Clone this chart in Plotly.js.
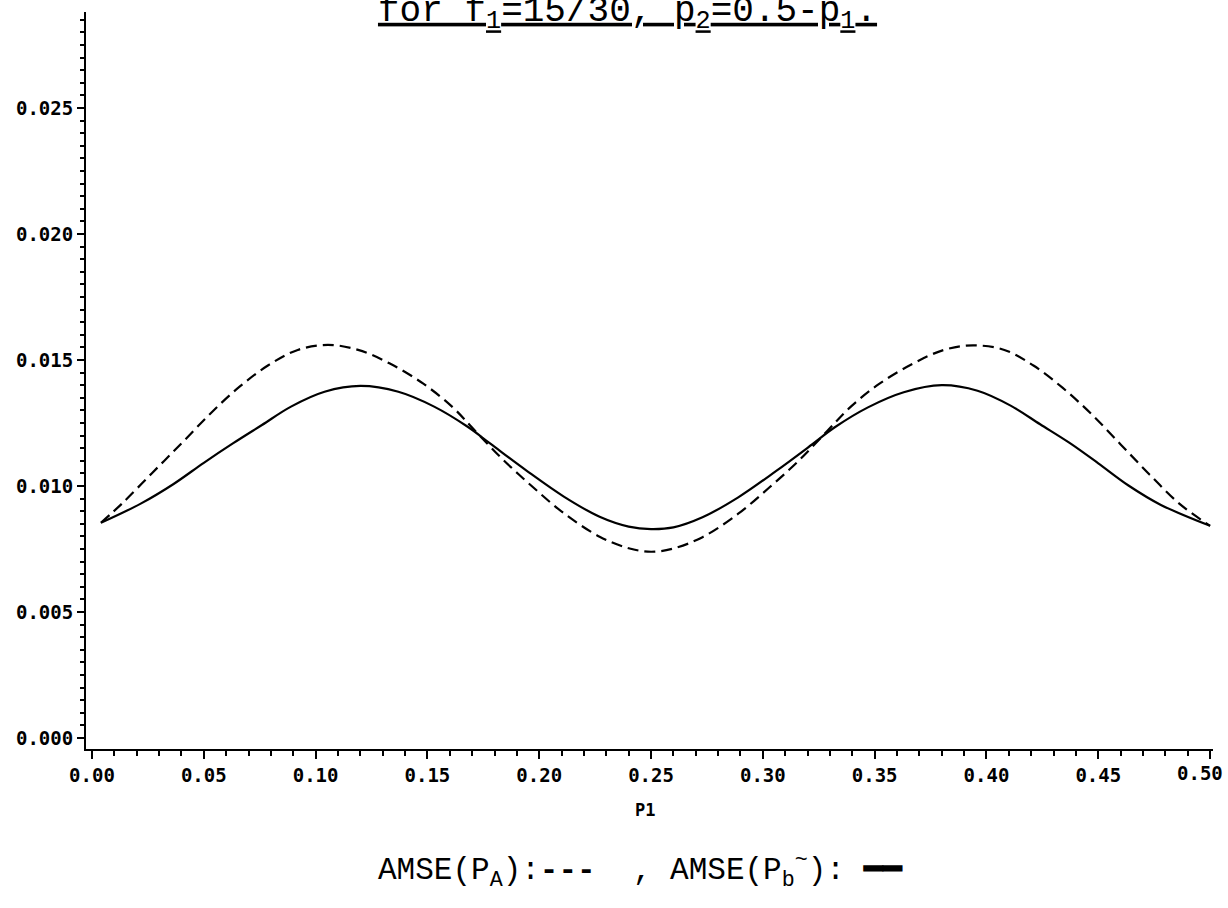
<!DOCTYPE html>
<html>
<head>
<meta charset="utf-8">
<script src="https://cdn.plot.ly/plotly-3.0.1.min.js"></script>
<style>html,body{margin:0;padding:0;background:#fff;}#chart{width:1228px;height:908px;}</style>
</head>
<body>
<div id="chart"></div>
<script>
// AMSE(P_b~) : solid curve
const p1Solid = [0.004, 0.022, 0.0365, 0.050, 0.063, 0.076, 0.089, 0.104, 0.120, 0.137, 0.153, 0.168, 0.178, 0.194, 0.211, 0.227, 0.240, 0.250, 0.260, 0.273, 0.289, 0.306, 0.322, 0.332, 0.347, 0.363, 0.380, 0.396, 0.411, 0.424, 0.437, 0.450, 0.4635, 0.478, 0.500];
const amseSolid = [0.00854, 0.00931, 0.01008, 0.01092, 0.01169, 0.01242, 0.01315, 0.01374, 0.01397, 0.01374, 0.01315, 0.01235, 0.01169, 0.01063, 0.00958, 0.00878, 0.00839, 0.00829, 0.00836, 0.00876, 0.00955, 0.01060, 0.01165, 0.01232, 0.01312, 0.01372, 0.01400, 0.01378, 0.01318, 0.01245, 0.01172, 0.01090, 0.01002, 0.00925, 0.00842];
// AMSE(P_A) : dashed curve
const p1Dashed = [0.004, 0.0135, 0.0267, 0.040, 0.053, 0.066, 0.079, 0.092, 0.1055, 0.119, 0.133, 0.148, 0.161, 0.171, 0.184, 0.197, 0.211, 0.227, 0.240, 0.250, 0.260, 0.273, 0.289, 0.303, 0.316, 0.329, 0.339, 0.352, 0.367, 0.381, 0.394, 0.408, 0.421, 0.434, 0.447, 0.460, 0.473, 0.4865, 0.500];
const amseDashed = [0.00854, 0.00931, 0.01050, 0.01169, 0.01288, 0.01394, 0.01480, 0.01540, 0.01560, 0.01540, 0.01487, 0.01407, 0.01315, 0.01222, 0.01103, 0.00997, 0.00892, 0.00799, 0.00753, 0.00739, 0.00752, 0.00797, 0.00890, 0.00995, 0.01100, 0.01220, 0.01312, 0.01405, 0.01485, 0.01540, 0.01558, 0.01540, 0.01478, 0.01390, 0.01285, 0.01165, 0.01045, 0.00928, 0.00842];

// tick labels
const xTickVals = [0, 0.05, 0.10, 0.15, 0.20, 0.25, 0.30, 0.35, 0.40, 0.45, 0.50];
const xTickText = ['0.00', '0.05', '0.10', '0.15', '0.20', '0.25', '0.30', '0.35', '0.40', '0.45', ''];
const xLastTickLabel = '0.50';
const yTickVals = [0, 0.005, 0.010, 0.015, 0.020, 0.025];
const yTickText = ['0.000', '0.005', '0.010', '0.015', '0.020', '0.025'];

const titleText = "<u>for f<sub>1</sub>=15/30, p<sub>2</sub>=0.5-p<sub>1</sub>.</u>";
const xLabel = "P1";
const legendText = "AMSE(P<sub>A</sub>):<b>---</b>  , AMSE(P<sub>b</sub><sup>~</sup>): <b>━━</b>";

const traces = [
  {x: p1Dashed, y: amseDashed, type: 'scatter', mode: 'lines',
   line: {color: '#000', width: 2.2, dash: '11px,6px', shape: 'spline', smoothing: 1}, showlegend: false},
  {x: p1Solid, y: amseSolid, type: 'scatter', mode: 'lines',
   line: {color: '#000', width: 2.2, shape: 'spline', smoothing: 1}, showlegend: false}
];

const tickFont = {family: 'DejaVu Sans Mono', size: 19, color: '#000', weight: 'bold'};

const layout = {
  width: 1228, height: 908,
  paper_bgcolor: '#fff', plot_bgcolor: '#fff',
  margin: {l: 86, r: 15, t: 12, b: 159},
  showlegend: false,
  title: {text: titleText, x: 0.511, xanchor: 'center', y: 0.991, yanchor: 'middle',
          font: {family: 'Liberation Mono', size: 36, color: '#000'}},
  xaxis: {
    range: [-0.00268, 0.5013], showgrid: false, zeroline: false,
    showline: true, linecolor: '#000', linewidth: 2,
    ticks: 'outside', ticklen: 8, tickwidth: 2, tickcolor: '#000',
    tickmode: 'array', tickvals: xTickVals, ticktext: xTickText, tickfont: tickFont,
    minor: {ticks: 'outside', ticklen: 5, tickwidth: 2, tickcolor: '#000', dtick: 0.01, tick0: 0, showgrid: false}
  },
  yaxis: {
    range: [-0.000437, 0.02881], showgrid: false, zeroline: false,
    showline: true, linecolor: '#000', linewidth: 2,
    ticks: 'outside', ticklen: 7, tickwidth: 2, tickcolor: '#000',
    tickmode: 'array', tickvals: yTickVals, ticktext: yTickText, tickfont: tickFont,
    minor: {ticks: 'outside', ticklen: 4, tickwidth: 2, tickcolor: '#000', dtick: 0.0005, tick0: 0, showgrid: false}
  },
  annotations: [
    {text: xLastTickLabel, xref: 'x', yref: 'paper', x: 0.5, y: -0.0326,
     xanchor: 'center', yanchor: 'middle', xshift: -10, showarrow: false,
     font: tickFont},
    {text: '<b>' + xLabel + '</b>', xref: 'paper', yref: 'paper', x: 0.496, y: -0.083,
     xanchor: 'center', yanchor: 'middle', showarrow: false,
     font: {family: 'DejaVu Sans Mono', size: 17, color: '#000'}},
    {text: legendText, xref: 'paper', yref: 'paper', x: 0.492, y: -0.165,
     xanchor: 'center', yanchor: 'middle', showarrow: false,
     font: {family: 'Liberation Mono', size: 31, color: '#000'}}
  ]
};

Plotly.newPlot('chart', traces, layout, {displayModeBar: false, staticPlot: true});
</script>
</body>
</html>
